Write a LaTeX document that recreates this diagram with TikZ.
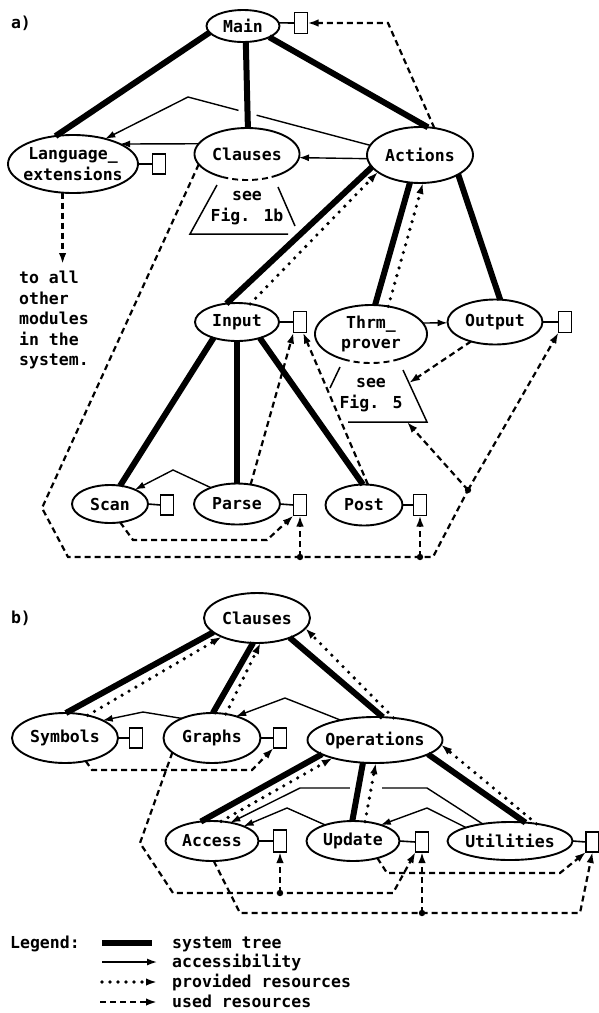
\documentclass[tikz,border=0pt]{standalone}
\usepackage{fontspec}
\newfontfamily\dfont{DejaVu Sans Mono}
\usetikzlibrary{arrows.meta,shapes.geometric,calc}
\pgfdeclarelayer{back}
\pgfdeclarelayer{gaps}
\pgfsetlayers{back,gaps,main}
\tikzset{
  txt/.style={font=\dfont\bfseries\fontsize{16.5}{20.5}\selectfont, align=center, inner sep=0pt},
  mod/.style={ellipse, draw, line width=1.9pt, inner sep=0pt, outer sep=0pt},
  res/.style={rectangle, draw, line width=1.6pt, minimum width=13pt, minimum height=20pt, inner sep=0pt, outer sep=0pt},
  link/.style={line width=1.6pt},
  tree/.style={line width=6pt},
  acc/.style={line width=1.4pt, -{Latex[length=10pt,width=7pt]}},
  prov/.style={line width=3.6pt, line cap=round, dash pattern=on 0pt off 8pt, -{Latex[length=11pt,width=7.5pt]}},
  used/.style={line width=2.2pt, dash pattern=on 6pt off 4pt, -{Latex[length=11pt,width=7.5pt]}},
  usedline/.style={line width=2.2pt, dash pattern=on 6pt off 4pt},
  outline/.style={line width=1.9pt},
  trap/.style={line width=1.5pt},
  junct/.style={fill=black}
}
\begin{document}
\begin{tikzpicture}[x=1pt,y=-1pt]
\useasboundingbox (0,0) rectangle (599,1013);

% ---------------- part a nodes
\node[txt] (alabel) at (21,23) {a)};
\node[mod, minimum width=73pt, minimum height=32pt, label={[txt]center:Main}] (main) at (243,26) {};
\node[res, minimum height=21pt] (mainbox) at (301,23) {};
\node[mod, minimum width=130pt, minimum height=58pt, label={[txt]center:Language\_\\extensions}] (lang) at (73,164) {};
\node[res] (langbox) at (159,164) {};
\node[mod, draw=none, minimum width=105pt, minimum height=52pt, label={[txt]center:Clauses}] (clauses) at (247,154) {};
\node[mod, minimum width=106pt, minimum height=56pt, label={[txt]center:Actions}] (actions) at (420,155) {};
\node[mod, minimum width=84pt, minimum height=38pt, label={[txt]center:Input}] (input) at (237,322) {};
\node[res, minimum height=21pt] (inputbox) at (300,322) {};
\node[mod, draw=none, minimum width=112pt, minimum height=58pt, label={[txt]center:Thrm\_\\prover}] (thrm) at (371,334) {};
\node[mod, minimum width=95pt, minimum height=45pt, label={[txt]center:Output}] (output) at (495,322) {};
\node[res, minimum height=21pt] (outputbox) at (565,322) {};
\node[mod, minimum width=76pt, minimum height=38pt, label={[txt]center:Scan}] (scan) at (110,504) {};
\node[res] (scanbox) at (167,505) {};
\node[mod, minimum width=86pt, minimum height=41pt, label={[txt]center:Parse}] (parse) at (237,504) {};
\node[res, minimum height=21pt] (parsebox) at (300,505) {};
\node[mod, minimum width=77pt, minimum height=41pt, label={[txt]center:Post}] (post) at (364,505) {};
\node[res, minimum height=21pt] (postbox) at (420,505) {};
\node[txt, align=left, anchor=north west] (toall) at (19,271) {to all\\other\\modules\\in the\\system.};
\node[txt] (fig1b) at (247,208) {see\\Fig. 1b};
\node[txt] (fig5) at (371,395) {see\\Fig. 5};

% ellipses with dashed bottoms
\draw[outline] plot[smooth, domain=-62:242, samples=90] ({247+52.5*cos(\x)},{154-26*sin(\x)});
\draw[outline, dash pattern=on 6pt off 4pt] plot[smooth, domain=242:298, samples=20] ({247+52.5*cos(\x)},{154-26*sin(\x)});
\draw[outline] plot[smooth, domain=-61:241, samples=90] ({371+56*cos(\x)},{334-29*sin(\x)});
\draw[outline, dash pattern=on 6pt off 4pt] plot[smooth, domain=241:299, samples=20] ({371+56*cos(\x)},{334-29*sin(\x)});

% trapezoids
\draw[trap] (217,185) -- (190,234) -- (288,234);
\draw[trap] (278,187) -- (295,226);
\draw[trap] (340,367) -- (330,388);
\draw[trap] (348,422) -- (427,422) -- (403,370);

% resource box links
\draw[link] (main.5) -- (mainbox.west);
\draw[link] (lang.east) -- (langbox.west);
\draw[link] (input.east) -- (inputbox.west);
\draw[link] (output.east) -- (outputbox.west);
\draw[link] (scan.east) -- (scanbox.west);
\draw[link] (parse.east) -- (parsebox.west);
\draw[link] (post.east) -- (postbox.west);

% system tree a
\draw[tree] (main.191) -- (lang.122);
\draw[tree] (main.280) -- (clauses.88);
\draw[tree] (main.337) -- (actions.74);
\draw[tree] (actions.194) -- (input.120);
\draw[tree] (actions.250) -- (thrm.82);
\draw[tree] (actions.333) -- (output.77);
\draw[tree] (input.214) -- (scan.61);
\draw[tree] (input.270) -- (parse.90);
\draw[tree] (input.325) -- (post.93);

% provided resources a
\draw[prov] (input.54) -- (actions.202);
\draw[prov] (thrm.58) -- (actions.276);

% used resources a
\coordinate (m1) at (388,23);
\draw[used] (actions.62) -- (m1) -- (mainbox.east);
\draw[used] (lang.250) -- ($(lang.250 |- toall.north)+(0,-7)$);
\coordinate (c2) at (42,508);
\coordinate (c3) at (68,557);
\coordinate (c4) at (433,557);
\coordinate (jn) at (468,490);
\draw[usedline] (clauses.192) -- (c2) -- (c3) -- (c4) -- (jn);
\fill[junct] (jn) circle (3.2pt);
\draw[used] (jn) -- (outputbox.south west);
\coordinate (f5b) at (407,422);
\draw[used] (jn) -- (f5b);
\coordinate (f5r) at (409,383);
\draw[used] (output.219) -- (f5r);
\coordinate (d1) at (parsebox.south |- c4);
\coordinate (d2) at (postbox.south |- c4);
\fill[junct] (d1) circle (3.2pt);
\fill[junct] (d2) circle (3.2pt);
\draw[used] (d1) -- (parsebox.south);
\draw[used] (d2) -- (postbox.south);
\draw[used] (parse.55) -- (inputbox.south west);
\draw[used] (post.79) -- ([xshift=3pt]inputbox.south);
\coordinate (s2) at (133,540);
\coordinate (s3) at (267,540);
\draw[used] (scan.299) -- (s2) -- (s3) -- (parsebox.south west);

% ---------------- part b nodes
\node[txt] (blabel) at (21,618) {b)};
\node[mod, minimum width=106pt, minimum height=50pt, label={[txt]center:Clauses}] (clausesb) at (257,618) {};
\node[mod, minimum width=106pt, minimum height=50pt, label={[txt]center:Symbols}] (symbols) at (65,738) {};
\node[res] (symbolsbox) at (136,738) {};
\node[mod, minimum width=97pt, minimum height=50pt, label={[txt]center:Graphs}] (graphs) at (212,738) {};
\node[res] (graphsbox) at (280,738) {};
\node[mod, minimum width=135pt, minimum height=46pt, label={[txt]center:Operations}] (ops) at (375,740) {};
\node[mod, minimum width=93pt, minimum height=40pt, label={[txt]center:Access}] (access) at (212,841) {};
\node[res, minimum height=22pt] (accessbox) at (280,841) {};
\node[mod, minimum width=93pt, minimum height=40pt, label={[txt]center:Update}] (update) at (353,841) {};
\node[res] (updatebox) at (422,842) {};
\node[mod, minimum width=125pt, minimum height=38pt, label={[txt]center:Utilities}] (util) at (510,841) {};
\node[res] (utilbox) at (592.5,842) {};

\draw[link] (symbols.east) -- (symbolsbox.west);
\draw[link] (graphs.east) -- (graphsbox.west);
\draw[link] (access.east) -- (accessbox.west);
\draw[link] (update.east) -- (updatebox.west);
\draw[link] (util.east) -- (utilbox.west);

% system tree b
\draw[tree] (clausesb.198) -- (symbols.88);
\draw[tree] (clausesb.261) -- (graphs.88);
\draw[tree] (clausesb.329) -- (ops.71);
\draw[tree] (ops.195) -- (access.120);
\draw[tree] (ops.242) -- (update.92);
\draw[tree] (ops.345) -- (util.50);

% provided resources b
\draw[prov] (symbols.45) -- (clausesb.208);
\draw[prov] (graphs.60) -- (clausesb.278);
\draw[prov] (ops.50) -- (clausesb.348);
\draw[prov] (util.33) -- (ops.356);
\draw[prov] (access.65) -- (ops.203);
\draw[prov] (update.58) -- (ops.272);

% used resources b
\coordinate (y1) at (92,770);
\coordinate (y2) at (252,770);
\draw[used] (symbols.312) -- (y1) -- (y2) -- (graphsbox.south west);
\coordinate (z1) at (140,843);
\coordinate (z2) at (173,893);
\coordinate (z3) at (393,893);
\draw[used] (graphs.200) -- (z1) -- (z2) -- (z3) -- (updatebox.south west);
\coordinate (dA) at (accessbox.south |- z2);
\fill[junct] (dA) circle (3.2pt);
\draw[used] (dA) -- (accessbox.south);
\coordinate (x1) at (240,913);
\coordinate (x2) at (580,913);
\draw[used] (access.275) -- (x1) -- (x2) -- (utilbox.south);
\coordinate (dU) at (updatebox.south |- x1);
\fill[junct] (dU) circle (3.2pt);
\draw[used] (dU) -- (updatebox.south);
\coordinate (t1) at (387,873);
\coordinate (t2) at (560,873);
\draw[used] (update.325) -- (t1) -- (t2) -- (utilbox.south west);

% ---------------- accessibility (thin) on back layer
\begin{pgfonlayer}{back}
\fill[white] (0,0) rectangle (599,1013);
\coordinate (a1) at (188,97);
\draw[acc] (actions.169) -- (a1) -- (lang.38);
\draw[acc] (clauses.168) -- (lang.23);
\draw[acc] (actions.184) -- (clauses.356);
\draw[acc] (thrm.12) -- (output.181);
\coordinate (sc1) at (173,470);
\draw[acc] (parse.148) -- (sc1) -- (scan.30);
\coordinate (g1) at (143,712);
\draw[acc] (graphs.147) -- (g1) -- (symbols.25);
\coordinate (g2) at (285,698);
\draw[acc] (ops.150) -- (g2) -- (graphs.42);
\coordinate (u1) at (427,788);
\coordinate (u2) at (300,788);
\draw[acc] (util.148) -- (u1) -- (u2) -- (access.45);
\coordinate (v1) at (427,808);
\draw[acc] (util.163) -- (v1) -- (update.30);
\coordinate (w1) at (287,808);
\draw[acc] (update.150) -- (w1) -- (access.25);
\end{pgfonlayer}
\begin{pgfonlayer}{gaps}
\fill[white] (247.5,113) circle (9.5pt);
\fill[white] (350,782) rectangle (382,795);
\end{pgfonlayer}

% ---------------- legend
\node[txt, anchor=base west] (legend) at (10,948.5) {Legend:};
\coordinate (l1a) at (102,943); \coordinate (l1b) at (152,943);
\coordinate (l2a) at (102,962); \coordinate (l2b) at (157,962);
\coordinate (l3a) at (102,982); \coordinate (l3b) at (157,982);
\coordinate (l4a) at (100,1002); \coordinate (l4b) at (157,1002);
\draw[tree] (l1a) -- (l1b);
\draw[acc] (l2a) -- (l2b);
\draw[prov] (l3a) -- (l3b);
\draw[used] (l4a) -- (l4b);
\node[txt, anchor=base west] (lt1) at (172,948.5) {system tree};
\node[txt, anchor=base west] (lt2) at (172,967.5) {accessibility};
\node[txt, anchor=base west] (lt3) at (172,987.5) {provided resources};
\node[txt, anchor=base west] (lt4) at (172,1007.5) {used resources};
\end{tikzpicture}
\end{document}
